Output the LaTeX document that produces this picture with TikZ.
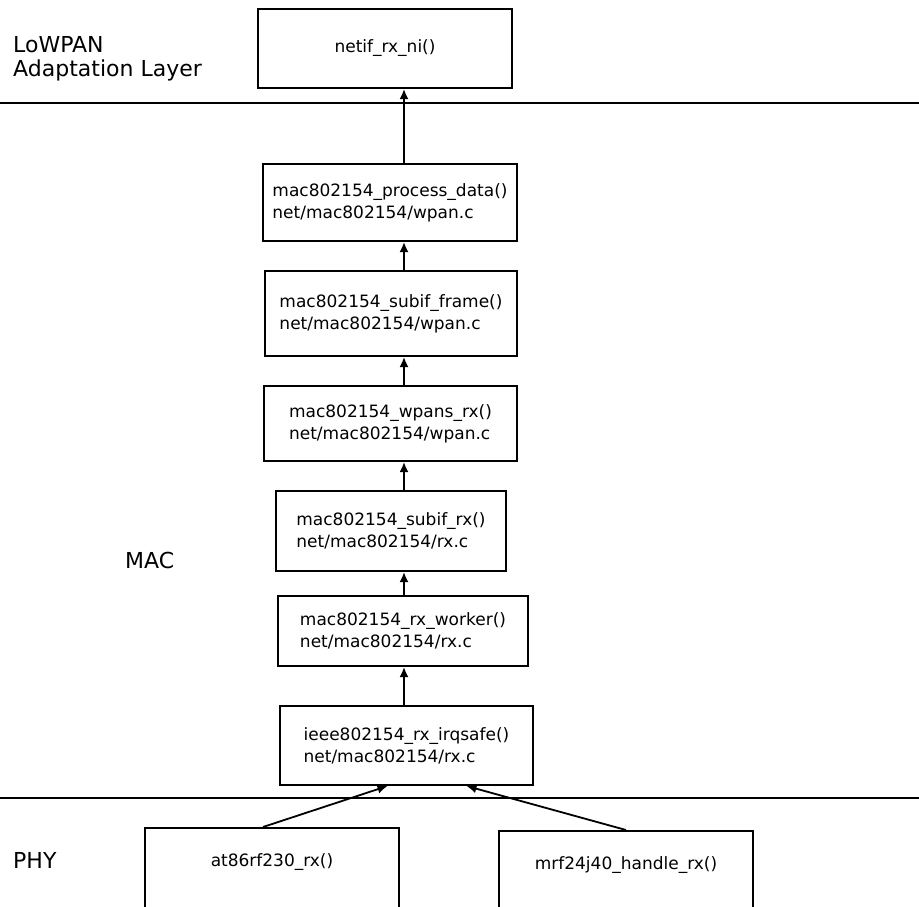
\documentclass[tikz,border=0pt]{standalone}
\usepackage{fontspec}
\setmainfont{DejaVu Sans}
\usetikzlibrary{arrows.meta,positioning}

\begin{document}
\begin{tikzpicture}[
  x=1pt, y=-1pt,
  fn/.style={draw, line width=2pt, anchor=north west, align=left,
    inner sep=0pt, font=\fontsize{17}{22}\selectfont},
  drv/.style={draw, line width=2pt, anchor=north west, inner sep=0pt,
    minimum width=254pt, text height=38pt, text depth=60pt,
    font=\fontsize{17}{22}\selectfont},
  arr/.style={-{Latex[length=10pt,width=9pt]}, line width=1.8pt},
  lbl/.style={font=\fontsize{22}{24}\selectfont, align=left, anchor=west, inner sep=0pt},
  sep/.style={line width=1.6pt},
]
\useasboundingbox (0,0) rectangle (919,906);
\clip (0,0) rectangle (919,906);

% layer labels and separators
\node[lbl] (lowpan) at (13,59) {LoWPAN\\Adaptation Layer};
\node[lbl] (mac) at (125,560) {MAC};
\node[lbl] (phy) at (13,860) {PHY};
\draw[sep] (0,103) -- (919,103);
\draw[sep] (0,798) -- (919,798);

% receive path
\node[fn, minimum width=254pt, minimum height=79pt] (netif) at (257,8) {netif\_rx\_ni()};
\node[fn, minimum width=254pt, minimum height=77pt] (pd) at (262,163) {mac802154\_process\_data()\\net/mac802154/wpan.c};
\node[fn, minimum width=252pt, minimum height=85pt] (sf) at (264,270) {mac802154\_subif\_frame()\\net/mac802154/wpan.c};
\node[fn, minimum width=253pt, minimum height=75pt] (wr) at (263,385) {mac802154\_wpans\_rx()\\net/mac802154/wpan.c};
\node[fn, minimum width=230pt, minimum height=80pt] (sr) at (275,490) {mac802154\_subif\_rx()\\net/mac802154/rx.c};
\node[fn, minimum width=250pt, minimum height=70pt] (rw) at (277,595) {mac802154\_rx\_worker()\\net/mac802154/rx.c};
\node[fn, minimum width=253pt, minimum height=79pt] (irq) at (279,705) {ieee802154\_rx\_irqsafe()\\net/mac802154/rx.c};

% drivers
\node[drv] (at86) at (144,827) {at86rf230\_rx()};
\node[drv] (mrf) at (498,830) {mrf24j40\_handle\_rx()};

\coordinate (spine) at (404,0);
\draw[arr] (pd.north -| spine) -- (netif.south -| spine);
\draw[arr] (sf.north -| spine) -- (pd.south -| spine);
\draw[arr] (wr.north -| spine) -- (sf.south -| spine);
\draw[arr] (sr.north -| spine) -- (wr.south -| spine);
\draw[arr] (rw.north -| spine) -- (sr.south -| spine);
\draw[arr] (irq.north -| spine) -- (rw.south -| spine);
\draw[arr] ([xshift=-9pt]at86.north) -- ([xshift=-19pt]irq.south);
\draw[arr] (mrf.north) -- ([xshift=60pt]irq.south);
\end{tikzpicture}
\end{document}
